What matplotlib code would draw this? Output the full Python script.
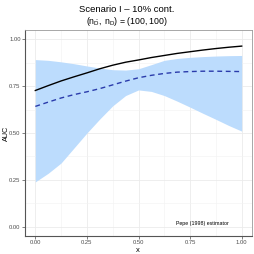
import matplotlib
matplotlib.use("Agg")
import matplotlib.pyplot as plt
import numpy as np

plt.rcParams['font.family'] = ['Liberation Sans', 'DejaVu Sans']
plt.rcParams['mathtext.fontset'] = 'custom'
plt.rcParams['mathtext.rm'] = 'Liberation Sans'

# values
xx = [0, 0.0625, 0.125, 0.1875, 0.25, 0.3125, 0.375, 0.4375, 0.5,
      0.5625, 0.625, 0.6875, 0.75, 0.8125, 0.875, 0.9375, 1.0]
auc_true = [0.727, 0.753, 0.778, 0.800, 0.821, 0.843, 0.862, 0.878, 0.890,
            0.903, 0.914, 0.925, 0.934, 0.943, 0.951, 0.958, 0.964]
auc_est = [0.642, 0.665, 0.687, 0.705, 0.720, 0.737, 0.757, 0.777, 0.795,
           0.808, 0.818, 0.825, 0.828, 0.830, 0.830, 0.829, 0.828]
band_lo = [0.239, 0.285, 0.340, 0.420, 0.500, 0.575, 0.645, 0.700, 0.730,
           0.722, 0.700, 0.670, 0.638, 0.605, 0.573, 0.540, 0.510]
band_hi = [0.892, 0.888, 0.880, 0.870, 0.858, 0.847, 0.838, 0.836, 0.843,
           0.865, 0.888, 0.898, 0.904, 0.908, 0.911, 0.913, 0.914]
ticks = [0.0, 0.25, 0.5, 0.75, 1.0]
tick_labels = ["0.00", "0.25", "0.50", "0.75", "1.00"]

fig = plt.figure(figsize=(2.54, 2.54), dpi=100)
ax = fig.add_axes([25/254, 1-236/254, 227/254, 206/254])

ax.fill_between(xx, band_lo, band_hi, color="#bcdcfd", lw=0, zorder=2)
ax.plot(xx, auc_true, color="black", lw=1.0, zorder=3)
ax.plot(xx, auc_est, color="#2a3bab", lw=1.0, dashes=(3.5, 2.6), zorder=3)

ax.set_xlim(-0.05, 1.05)
ax.set_ylim(-0.05, 1.05)
ax.set_xticks(ticks)
ax.set_xticklabels(tick_labels)
ax.set_yticks(ticks)
ax.set_yticklabels(tick_labels)
ax.set_xticks([0.125, 0.375, 0.625, 0.875], minor=True)
ax.set_yticks([0.125, 0.375, 0.625, 0.875], minor=True)
ax.grid(True, which="major", color="#ebebeb", lw=0.6, zorder=0)
ax.grid(True, which="minor", color="#f2f2f2", lw=0.4, zorder=0)
ax.tick_params(which="major", labelsize=4.2, labelcolor="#4d4d4d",
               color="#4d4d4d", length=2, width=0.5, pad=1.2)
ax.tick_params(which="minor", length=0)
for s in ["left", "bottom"]:
    ax.spines[s].set_color("#555555")
    ax.spines[s].set_linewidth(0.8)
for s in ["top", "right"]:
    ax.spines[s].set_color("#999999")
    ax.spines[s].set_linewidth(0.6)

ax.set_xlabel("x", fontsize=5.5)
ax.set_ylabel("AUC", fontsize=5.2)
ax.xaxis.set_label_coords((138 - 25) / 227, -(247 - 236) / 206)
ax.yaxis.set_label_coords(-(25 - 9.5) / 227, 0.5)
ax.text(0.81, 0.018, "Pepe (1998) estimator", fontsize=3.8, ha="center", va="center")

fig.text(0.5, 1-10/254, "Scenario I \u2013 10% cont.", fontsize=6.8, ha="center", va="center")
fig.text(0.5, 1-22/254, r"$(\mathrm{n}_{\bar{\mathrm{D}}},\,\mathrm{n}_{\mathrm{D}})$ = (100, 100)",
         fontsize=6.3, ha="center", va="center")

fig.savefig("out.png", dpi=100)
